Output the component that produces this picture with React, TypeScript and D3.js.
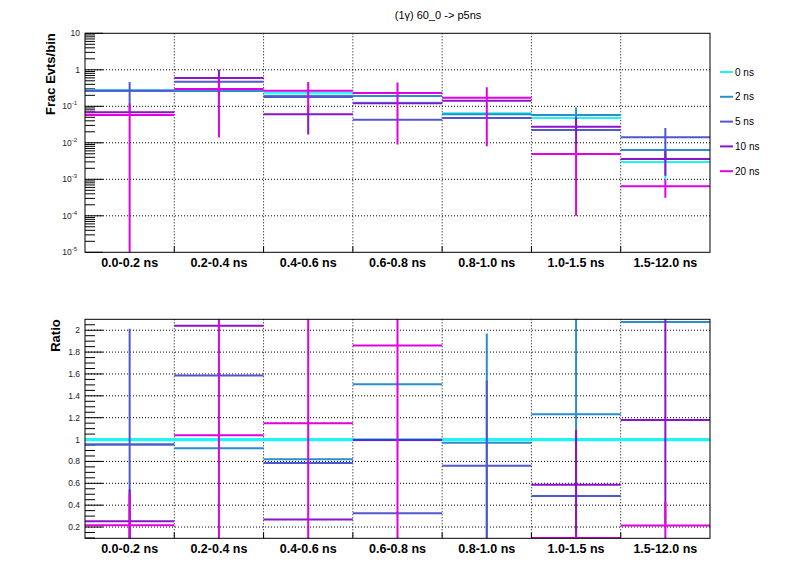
import * as d3 from 'd3';

const bins = ['0.0-0.2 ns', '0.2-0.4 ns', '0.4-0.6 ns', '0.6-0.8 ns', '0.8-1.0 ns', '1.0-1.5 ns', '1.5-12.0 ns'];
const seriesNames = ['0 ns', '2 ns', '5 ns', '10 ns', '20 ns'];
const colors = ['#1ff5f5', '#2a8ecc', '#5058cf', '#8a14c8', '#e000e0'];

// fraction of events per bin (top pad)
const frac0 = [0.277, 0.285, 0.235, 0.125, 0.065, 0.048, 0.003];
const frac2 = [0.265, 0.262, 0.195, 0.192, 0.061, 0.0574, 0.0063];
const frac5 = [0.266, 0.469, 0.181, 0.043, 0.048, 0.0226, 0.0143];
const frac10 = [0.069, 0.593, 0.061, 0.122, 0.142, 0.0275, 0.0036];
const frac20 = [0.058, 0.3, 0.266, 0.23, 0.171, 0.0049, 0.00065];

const fracErr0 = [0, 0, 0, 0, 0, 0, 0.002];
const fracErr2 = [0, 0, 0, 0, 0, 0.036, 0];
const fracErr5 = [0.2, 0, 0, 0, 0, 0, 0.011];
const fracErr10 = [0, 0.41, 0.044, 0, 0, 0.022, 0.00235];
const fracErr20 = [0.062, 0.286, 0.195, 0.221, 0.163, 0.0048, 0.00034];

// ratio to 0 ns (bottom pad)
const ratio0 = [1, 1, 1, 1, 1, 1, 1];
const ratio2 = [0.954, 0.92, 0.82, 1.507, 0.97, 1.232, 2.076];
const ratio5 = [0.954, 1.585, 0.785, 0.327, 0.76, 0.483, 4.8];
const ratio10 = [0.253, 2.04, 0.27, 0.995, 2.2, 0.587, 1.18];
const ratio20 = [0.216, 1.04, 1.15, 1.86, 2.67, 0.1, 0.215];

const ratioErr0 = [0, 0, 0, 0, 0, 0, 0];
const ratioErr2 = [0, 0, 0, 0, 1.0, 1.2, 0];
const ratioErr5 = [1.06, 0, 0, 0, 0.78, 0, 0];
const ratioErr10 = [0.29, 0, 0, 0, 0, 0.5, 0.95];
const ratioErr20 = [0.28, 2.5, 2.5, 2.5, 0, 0.03, 0.215];

const fracs = [frac0, frac2, frac5, frac10, frac20];
const fracErrs = [fracErr0, fracErr2, fracErr5, fracErr10, fracErr20];
const ratios = [ratio0, ratio2, ratio5, ratio10, ratio20];
const ratioErrs = [ratioErr0, ratioErr2, ratioErr5, ratioErr10, ratioErr20];

const FONT = "'Liberation Sans', Arial, Helvetica, sans-serif";
const LEFT = 85;
const RIGHT = 710;

const x = d3.scaleBand<string>().domain(bins).range([LEFT, RIGHT]).padding(0);

function XAxis({ y0 }: { y0: number }) {
  const bounds = bins.slice(1).map((b) => x(b) as number);
  return (
    <g>
      {bounds.map((bx, i) => (
        <line key={i} x1={bx} x2={bx} y1={y0} y2={y0 - 6} stroke="black" />
      ))}
      {bins.map((b) => (
        <text
          key={b}
          x={(x(b) as number) + x.bandwidth() / 2}
          y={y0 + 15}
          textAnchor="middle"
          fontFamily={FONT}
          fontWeight="bold"
          fontSize={12.5}
        >
          {b}
        </text>
      ))}
    </g>
  );
}

function Hists({
  vals, errs, y, yLow, clip, widths,
}: {
  vals: number[][]; errs: number[][]; y: (v: number) => number; yLow: number; clip: string; widths: number[];
}) {
  return (
    <g clipPath={`url(#${clip})`}>
      {vals.map((s, si) => (
        <g key={si} stroke={colors[si]} strokeWidth={widths[si]}>
          {s.map((v, bi) => {
            const bx = x(bins[bi]) as number;
            const e = errs[si][bi];
            const cx = bx + x.bandwidth() / 2;
            const lo = v - e > 0 ? y(v - e) : yLow;
            return (
              <g key={bi}>
                <line x1={bx} x2={bx + x.bandwidth()} y1={y(v)} y2={y(v)} />
                {e > 0 && <line x1={cx} x2={cx} y1={y(v + e)} y2={lo} strokeWidth={2} />}
              </g>
            );
          })}
        </g>
      ))}
    </g>
  );
}

function Clip({ top, bottom, id }: { top: number; bottom: number; id: string }) {
  return (
    <defs>
      <clipPath id={id}>
        <rect x={LEFT} y={top} width={RIGHT - LEFT} height={bottom - top} />
      </clipPath>
    </defs>
  );
}

export default function App() {
  // top pad
  const T0 = 33.3;
  const T1 = 252.3;
  const yLog = d3.scaleLog().domain([1e-5, 10]).range([T1, T0]);
  const decades = [-5, -4, -3, -2, -1, 0, 1];
  const logMinor: number[] = [];
  decades.slice(0, -1).forEach((d) => {
    for (let k = 2; k <= 9; k++) logMinor.push(k * Math.pow(10, d));
  });

  // bottom pad
  const B0 = 319.3;
  const B1 = 538.3;
  const yR = d3.scaleLinear().domain([0.097, 2.1]).range([B1, B0]);
  const rMajor = d3.range(0.2, 2.01, 0.2);
  const rMinor = d3.range(0.1, 2.1, 0.05).filter((v) => Math.abs(v / 0.2 - Math.round(v / 0.2)) > 0.01);

  const bounds = bins.slice(1).map((b) => x(b) as number);

  return (
    <svg width={796} height={572} style={{ display: 'block', position: 'absolute', left: 0, top: 0 }}>
      <rect width={796} height={572} fill="white" />
      <Clip top={T0} bottom={T1} id="clipTop" />
      <Clip top={B0} bottom={B1} id="clipBot" />

      <text x={438} y={19} textAnchor="middle" fontFamily={FONT} fontSize={11}>
        (1γ) 60_0 -&gt; p5ns
      </text>

      {/* top grid */}
      <g stroke="black" strokeDasharray="1,2" strokeWidth={1}>
        {decades.slice(1, -1).map((d) => (
          <line key={d} x1={LEFT} x2={RIGHT} y1={yLog(Math.pow(10, d))} y2={yLog(Math.pow(10, d))} />
        ))}
        {bounds.map((bx, i) => (
          <line key={i} x1={bx} x2={bx} y1={T0} y2={T1} />
        ))}
      </g>
      {/* top y axis */}
      <g stroke="black">
        {decades.map((d) => (
          <line key={d} x1={LEFT} x2={LEFT + 18} y1={yLog(Math.pow(10, d))} y2={yLog(Math.pow(10, d))} />
        ))}
        {logMinor.map((v, i) => (
          <line key={i} x1={LEFT} x2={LEFT + 10} y1={yLog(v)} y2={yLog(v)} />
        ))}
      </g>
      <g fontFamily={FONT} fontSize={8.5} fill="#222">
        {decades.map((d) => (
          <text key={d} x={d < 0 ? 77 : 80} y={yLog(Math.pow(10, d)) + 3} textAnchor="end">
            {d === 0 ? '1' : '10'}
            {d < 0 && (
              <tspan dy={-4} fontSize={6}>
                {d}
              </tspan>
            )}
          </text>
        ))}
      </g>
      <text
        transform={`translate(55, ${T0}) rotate(-90)`}
        textAnchor="end"
        fontFamily={FONT}
        fontWeight="bold"
        fontSize={13}
      >
        Frac Evts/bin
      </text>
      <Hists vals={fracs} errs={fracErrs} y={yLog} yLow={T1 + 5} clip="clipTop" widths={[2, 2, 2, 2, 2]} />
      <rect x={LEFT} y={T0} width={RIGHT - LEFT} height={T1 - T0} fill="none" stroke="black" />
      <XAxis y0={T1} />

      {/* legend */}
      <g fontFamily={FONT} fontSize={10}>
        {seriesNames.map((n, i) => (
          <g key={n} transform={`translate(720, ${72 + i * 24.8})`}>
            <line x1={0} x2={13} y1={0} y2={0} stroke={colors[i]} strokeWidth={2} />
            <text x={15} y={3.5}>
              {n}
            </text>
          </g>
        ))}
      </g>

      {/* bottom grid */}
      <g stroke="black" strokeDasharray="1,2" strokeWidth={1}>
        {rMajor.map((v, i) => (
          <line key={i} x1={LEFT} x2={RIGHT} y1={yR(v)} y2={yR(v)} />
        ))}
        {bounds.map((bx, i) => (
          <line key={i} x1={bx} x2={bx} y1={B0} y2={B1} />
        ))}
      </g>
      <g stroke="black">
        {rMajor.map((v, i) => (
          <line key={i} x1={LEFT} x2={LEFT + 18} y1={yR(v)} y2={yR(v)} />
        ))}
        {rMinor.map((v, i) => (
          <line key={i} x1={LEFT} x2={LEFT + 10} y1={yR(v)} y2={yR(v)} />
        ))}
      </g>
      <g fontFamily={FONT} fontSize={8.5} fill="#222">
        {rMajor.map((v, i) => (
          <text key={i} x={80} y={yR(v) + 3} textAnchor="end">
            {d3.format('~g')(+v.toFixed(1))}
          </text>
        ))}
      </g>
      <text
        transform={`translate(60, ${B0}) rotate(-90)`}
        textAnchor="end"
        fontFamily={FONT}
        fontWeight="bold"
        fontSize={13}
      >
        Ratio
      </text>
      <Hists vals={ratios} errs={ratioErrs} y={yR} yLow={B1 + 5} clip="clipBot" widths={[3.3, 2, 2, 2, 2]} />
      <rect x={LEFT} y={B0} width={RIGHT - LEFT} height={B1 - B0} fill="none" stroke="black" />
      <XAxis y0={B1} />
    </svg>
  );
}
